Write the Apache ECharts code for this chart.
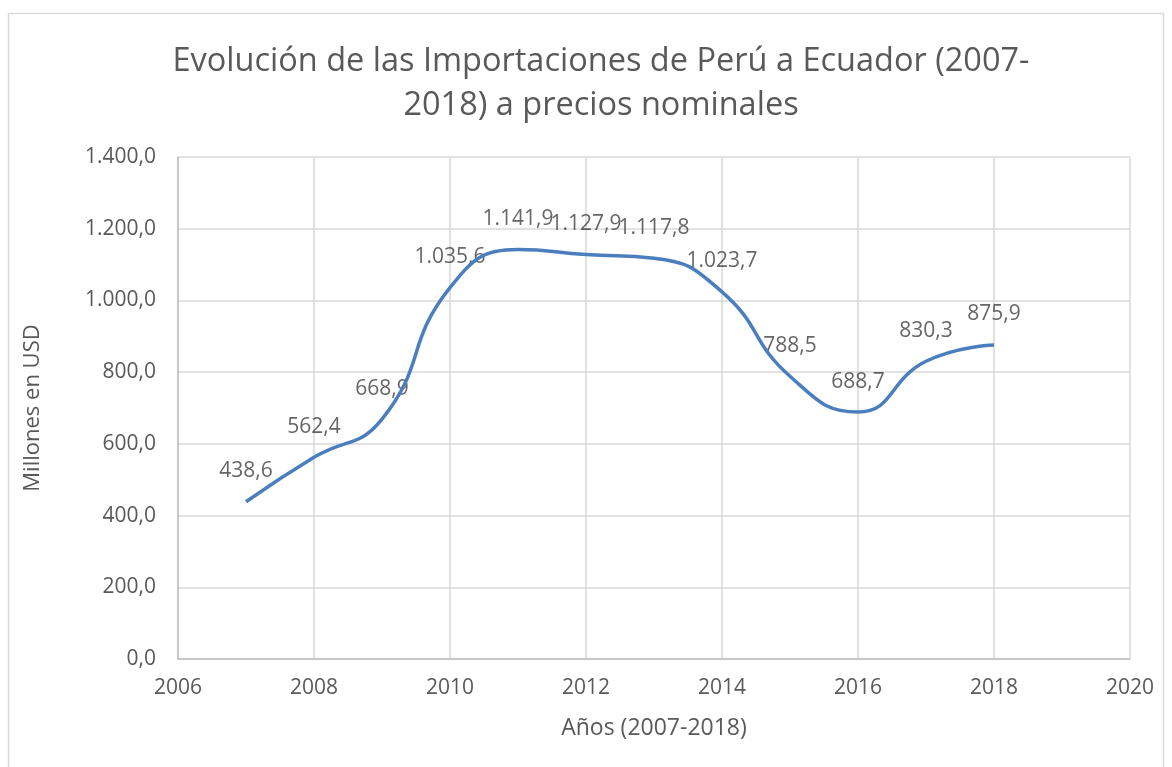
<!DOCTYPE html>
<html><head><meta charset="utf-8">
<script src="https://cdn.jsdelivr.net/npm/echarts@6/dist/echarts.min.js"></script>
<style>html,body{margin:0;padding:0;background:#fff}#c{width:1172px;height:767px}</style>
</head><body><div id="c"></div>
<script>
const years = [2007, 2008, 2009, 2010, 2011, 2012, 2013, 2014, 2015, 2016, 2017, 2018];
const values = [438.6, 562.4, 668.9, 1035.6, 1141.9, 1127.9, 1117.8, 1023.7, 788.5, 688.7, 830.3, 875.9];
const titleText = 'Evolución de las Importaciones de Perú a Ecuador (2007-\n2018) a precios nominales';
const xName = 'Años (2007-2018)';
const yName = 'Millones en USD';

function fmt(v) {
  const s = Number(v).toFixed(1);
  let [i, d] = s.split('.');
  i = i.replace(/\B(?=(\d{3})+(?!\d))/g, '.');
  return i + ',' + d;
}
const FONT = '"Open Sans", sans-serif';
const pts = years.map((y, i) => [y, values[i]]);
const chart = echarts.init(document.getElementById('c'));
chart.setOption({
  animation: false,
  backgroundColor: '#fff',
  graphic: [{
    type: 'rect', shape: {x: 8.5, y: 13.5, width: 1155, height: 770},
    style: {fill: 'none', stroke: '#d9d9d9', lineWidth: 1.5}, z: -1
  }],
  title: {
    text: titleText, left: 596, top: 35, textAlign: 'center',
    textStyle: {fontFamily: FONT, fontSize: 32.5, fontWeight: 'normal', color: '#595959', lineHeight: 44}
  },
  grid: {left: 178, right: 42, top: 157, bottom: 108},
  xAxis: {
    type: 'value', min: 2006, max: 2020, interval: 2,
    name: xName, nameLocation: 'middle', nameGap: 58,
    nameTextStyle: {fontFamily: FONT, fontSize: 23, color: '#595959'},
    axisLine: {show: true, lineStyle: {color: '#bfbfbf', width: 1.5}},
    axisTick: {show: false},
    axisLabel: {fontFamily: FONT, fontSize: 21, color: '#595959', margin: 19, formatter: v => String(v)},
    splitLine: {show: true, lineStyle: {color: '#d9d9d9', width: 1.5}}
  },
  yAxis: {
    type: 'value', min: 0, max: 1400, interval: 200,
    name: yName, nameLocation: 'middle', nameGap: 134, nameRotate: 90,
    nameTextStyle: {fontFamily: FONT, fontSize: 22, color: '#595959'},
    axisLine: {show: true, lineStyle: {color: '#bfbfbf', width: 1.5}},
    axisTick: {show: false},
    axisLabel: {fontFamily: FONT, fontSize: 21, color: '#595959', margin: 22, formatter: fmt},
    splitLine: {show: true, lineStyle: {color: '#d9d9d9', width: 1.5}}
  },
  series: [{
    type: 'line', smooth: 0.5, symbol: 'none',
    data: pts,
    lineStyle: {color: '#4a7ebf', width: 3.5}
  }, {
    type: 'scatter', symbolSize: 2, data: pts,
    itemStyle: {color: 'rgba(0,0,0,0)'},
    label: {show: true, position: 'top', distance: 19, fontFamily: FONT, fontSize: 21, color: '#404040',
      formatter: p => fmt(p.value[1])},
    labelLayout: {hideOverlap: false}
  }]
});
</script></body></html>
